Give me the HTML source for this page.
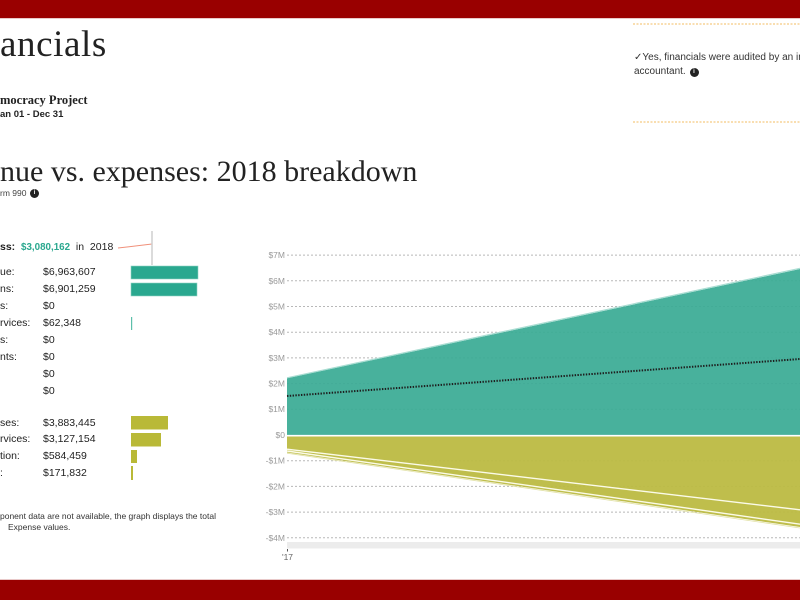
<!DOCTYPE html>
<html>
<head>
<meta charset="utf-8">
<style>
  html, body { margin:0; padding:0; }
  body { width:800px; height:600px; overflow:hidden; background:#fff; position:relative; font-family:"Liberation Sans", sans-serif; color:#222; }
  .abs { position:absolute; white-space:nowrap; }
  .serif { font-family:"Liberation Serif", serif; }
  .row { position:absolute; left:0; font-size:10.5px; line-height:14px; height:14px; white-space:nowrap; color:#222; }
  .val { position:absolute; left:43px; font-size:10.5px; line-height:14px; white-space:nowrap; color:#222; }
  .info { position:absolute; border-radius:50%; background:#222; color:#fff; font-size:6px; line-height:9px; text-align:center; font-weight:bold; }
</style>
</head>
<body>
  <!-- top / bottom red bars -->
  <div class="abs" style="left:0;top:0;width:800px;height:18px;background:#990000;"></div>
  <div class="abs" style="left:0;top:18px;width:800px;height:1px;background:#e9c9c9;"></div>
  <div class="abs" style="left:0;top:580px;width:800px;height:20px;background:#990000;"></div>
  <div class="abs" style="left:0;top:579px;width:800px;height:1px;background:#e9c9c9;"></div>

  <!-- header -->
  <div class="abs serif" style="left:0;top:26px;font-size:37px;line-height:37px;letter-spacing:0.6px;color:#222;">ancials</div>
  <div class="abs serif" style="left:0;top:92px;font-size:12.5px;line-height:16px;font-weight:bold;color:#222;">mocracy Project</div>
  <div class="abs" style="left:0;top:108px;font-size:9.5px;line-height:14px;font-weight:bold;color:#222;">an 01 - Dec 31</div>

  <div class="abs serif" style="left:0;top:157px;font-size:30px;line-height:30px;color:#222;">nue vs. expenses: 2018 breakdown</div>
  <div class="abs" style="left:0;top:187px;font-size:8.5px;line-height:12px;color:#444;">rm 990</div>
  <div class="info" style="left:30px;top:189px;width:9px;height:9px;">i</div>

  <!-- top right audited -->
  <svg class="abs" style="left:0;top:0;" width="800" height="130">
    <line x1="633" y1="24" x2="800" y2="24" stroke="#f3bd62" stroke-width="1" stroke-dasharray="2,1.5"/>
    <line x1="633" y1="122" x2="800" y2="122" stroke="#f3bd62" stroke-width="1" stroke-dasharray="2,1.5"/>
  </svg>
  <div class="abs" style="left:634px;top:51px;width:166px;overflow:hidden;font-size:10px;line-height:14px;color:#333;">&#10003;Yes, financials were audited by an in</div>
  <div class="abs" style="left:634px;top:65px;font-size:10px;line-height:14px;color:#333;">accountant.</div>
  <div class="info" style="left:689.5px;top:67.5px;width:9px;height:9px;">i</div>

  <!-- net line -->
  <div class="abs" style="left:0;top:240px;font-size:10.5px;line-height:14px;color:#222;"><b>ss:</b>&nbsp; <b style="color:#2aa88f;font-size:9.8px;">$3,080,162</b>&nbsp; in&nbsp; 2018</div>
  <svg class="abs" style="left:0;top:0;" width="300" height="600">
    <line x1="118" y1="248" x2="152" y2="244" stroke="#f0907a" stroke-width="1"/>
    <line x1="152" y1="231" x2="152" y2="265" stroke="#cfcfcf" stroke-width="1.5"/>
    <!-- revenue bars -->
    <rect x="131" y="266" width="67" height="13" fill="#2aa88f" stroke="#8fd3c4" stroke-width="0.6"/>
    <rect x="131" y="283" width="66" height="13" fill="#2aa88f" stroke="#8fd3c4" stroke-width="0.6"/>
    <rect x="131" y="317" width="1.2" height="13" fill="#5dbfaa"/>
    <!-- expense bars -->
    <rect x="131" y="416" width="37" height="13.5" fill="#b9b937"/>
    <rect x="131" y="433" width="30" height="13.5" fill="#b9b937"/>
    <rect x="131" y="450" width="6" height="13" fill="#b9b937"/>
    <rect x="131" y="466" width="2" height="14" fill="#b9b937"/>
  </svg>

  <!-- revenue rows -->
  <div class="row" style="top:265px;">ue:</div><div class="val" style="top:265px;">$6,963,607</div>
  <div class="row" style="top:282px;">ns:</div><div class="val" style="top:282px;">$6,901,259</div>
  <div class="row" style="top:299px;">s:</div><div class="val" style="top:299px;">$0</div>
  <div class="row" style="top:316px;">rvices:</div><div class="val" style="top:316px;">$62,348</div>
  <div class="row" style="top:333px;">s:</div><div class="val" style="top:333px;">$0</div>
  <div class="row" style="top:350px;">nts:</div><div class="val" style="top:350px;">$0</div>
  <div class="val" style="top:367px;">$0</div>
  <div class="val" style="top:384px;">$0</div>

  <!-- expense rows -->
  <div class="row" style="top:415.5px;">ses:</div><div class="val" style="top:415.5px;">$3,883,445</div>
  <div class="row" style="top:432px;">rvices:</div><div class="val" style="top:432px;">$3,127,154</div>
  <div class="row" style="top:449px;">tion:</div><div class="val" style="top:449px;">$584,459</div>
  <div class="row" style="top:466px;">:</div><div class="val" style="top:466px;">$171,832</div>

  <!-- footnote -->
  <div class="abs" style="left:0;top:511px;font-size:8.5px;line-height:11px;color:#333;">ponent data are not available, the graph displays the total</div>
  <div class="abs" style="left:8px;top:522px;font-size:8.5px;line-height:11px;color:#333;">Expense values.</div>

  <!-- chart -->
  <svg class="abs" style="left:0;top:0;" width="800" height="600" font-family="Liberation Sans, sans-serif">
    <g stroke="#b8b8b8" stroke-width="1" stroke-dasharray="2,2">
      <line x1="287" y1="255.1" x2="800" y2="255.1"/>
      <line x1="287" y1="280.8" x2="800" y2="280.8"/>
      <line x1="287" y1="306.5" x2="800" y2="306.5"/>
      <line x1="287" y1="332.2" x2="800" y2="332.2"/>
      <line x1="287" y1="357.9" x2="800" y2="357.9"/>
      <line x1="287" y1="383.6" x2="800" y2="383.6"/>
      <line x1="287" y1="409.3" x2="800" y2="409.3"/>
      <line x1="287" y1="460.7" x2="800" y2="460.7"/>
      <line x1="287" y1="486.4" x2="800" y2="486.4"/>
      <line x1="287" y1="512.1" x2="800" y2="512.1"/>
      <line x1="287" y1="537.8" x2="800" y2="537.8"/>
    </g>
    <g font-size="8.5" fill="#999" text-anchor="end">
      <text x="285" y="258">$7M</text>
      <text x="285" y="284">$6M</text>
      <text x="285" y="309.5">$5M</text>
      <text x="285" y="335">$4M</text>
      <text x="285" y="361">$3M</text>
      <text x="285" y="386.5">$2M</text>
      <text x="285" y="412">$1M</text>
      <text x="285" y="438">$0</text>
      <text x="285" y="463.5">-$1M</text>
      <text x="285" y="489.5">-$2M</text>
      <text x="285" y="515">-$3M</text>
      <text x="285" y="541">-$4M</text>
    </g>
    <!-- teal area -->
    <polygon points="287,435 287,378.3 800,269 800,435" fill="#3aab95" fill-opacity="0.93"/>
    <line x1="287" y1="377.8" x2="800" y2="268.3" stroke="#a9ddd2" stroke-width="1.2"/>
    <!-- yellow area -->
    <polygon points="287,436.5 800,436.5 800,527 287,452.5" fill="#bcba42" fill-opacity="0.95"/>
    <line x1="287" y1="449.2" x2="800" y2="509.8" stroke="#fbfbe8" stroke-width="1.4"/>
    <line x1="287" y1="451" x2="800" y2="524.2" stroke="#fbfbe8" stroke-width="1.4"/>
    <line x1="287" y1="453.2" x2="800" y2="528" stroke="#e2e2a8" stroke-width="0.8"/>
    <!-- zero line -->
    <line x1="287" y1="435.7" x2="800" y2="435.7" stroke="#ffffff" stroke-width="1.6"/>
    <!-- net dotted line -->
    <line x1="287" y1="396" x2="800" y2="359" stroke="#1e1e1e" stroke-width="2" stroke-dasharray="1.4,1.4"/>
    <!-- scrollbar / axis -->
    <rect x="287" y="542" width="513" height="6.5" fill="#ececec"/>
    <rect x="287" y="542" width="8" height="6.5" rx="3.2" fill="#ececec"/>
    <line x1="287.5" y1="549" x2="287.5" y2="551.5" stroke="#555" stroke-width="1"/>
    <text x="287.5" y="560" font-size="8.5" fill="#666" text-anchor="middle">'17</text>
  </svg>
</body>
</html>
